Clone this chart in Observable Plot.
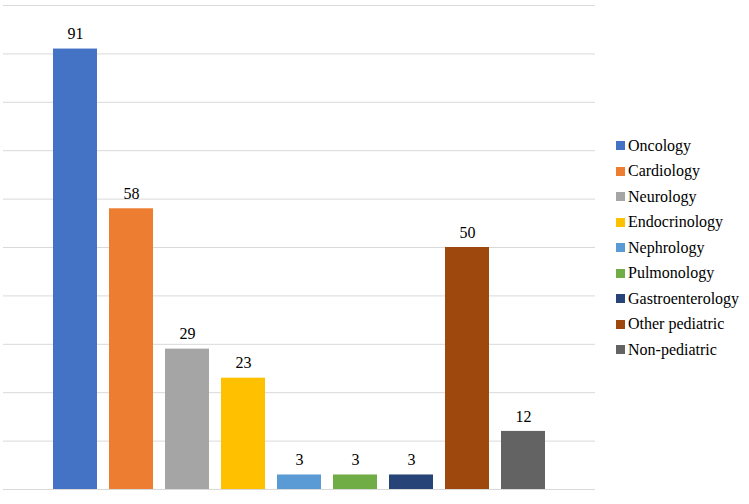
<!DOCTYPE html>
<html>
<head>
<meta charset="utf-8">
<script src="https://cdn.jsdelivr.net/npm/d3@7"></script>
<script src="https://cdn.jsdelivr.net/npm/@observablehq/plot@0.6"></script>
<style>
  html, body { margin: 0; padding: 0; background: #fff; }
  #wrap { position: relative; width: 749px; height: 504px; }
  #legend { position: absolute; left: 616px; top: 133px; font-family: "Liberation Serif", Tinos, "Times New Roman", Times, "DejaVu Serif", serif; font-size: 16px; color: #000; }
  .item { display: flex; align-items: center; height: 25.5px; white-space: nowrap; }
  .sw { width: 9px; height: 9px; margin-right: 3px; flex: none; }
  svg text { font-family: "Liberation Serif", Tinos, "Times New Roman", Times, "DejaVu Serif", serif; }
</style>
</head>
<body>
<div id="wrap"></div>
<script>
const categories = ["Oncology", "Cardiology", "Neurology", "Endocrinology", "Nephrology", "Pulmonology", "Gastroenterology", "Other pediatric", "Non-pediatric"];
const values = [91, 58, 29, 23, 3, 3, 3, 50, 12];
const colors = ["#4472C4", "#ED7D31", "#A5A5A5", "#FFC000", "#5B9BD5", "#70AD47", "#264478", "#9E480E", "#636363"];
const gridTicks = [0, 10, 20, 30, 40, 50, 60, 70, 80, 90, 100];

const data = categories.map((c, i) => ({category: c, value: values[i]}));

const chart = Plot.plot({
  width: 749,
  height: 504,
  marginLeft: 3,
  marginRight: 154,
  marginTop: 5,
  marginBottom: 15,
  style: {fontFamily: "'Liberation Serif', Tinos, 'Times New Roman', Times, 'DejaVu Serif', serif", background: "#fff"},
  x: {domain: categories, range: [46.1, 551.9], paddingInner: 0.22, paddingOuter: 0.11, axis: null},
  y: {domain: [0, 100], axis: null},
  color: {domain: categories, range: colors},
  marks: [
    Plot.ruleY(gridTicks, {stroke: "#d9d9d9", strokeWidth: 1}),
    Plot.barY(data, {x: "category", y: "value", fill: "category"}),
    Plot.text(data, {x: "category", y: "value", text: d => String(d.value), dy: -15, fontSize: 16, fill: "#000"})
  ]
});

const wrap = document.getElementById("wrap");
wrap.appendChild(chart);

const legend = document.createElement("div");
legend.id = "legend";
categories.forEach((c, i) => {
  const item = document.createElement("div");
  item.className = "item";
  const sw = document.createElement("span");
  sw.className = "sw";
  sw.style.background = colors[i];
  const label = document.createElement("span");
  label.textContent = c;
  item.appendChild(sw);
  item.appendChild(label);
  legend.appendChild(item);
});
wrap.appendChild(legend);
</script>
</body>
</html>
